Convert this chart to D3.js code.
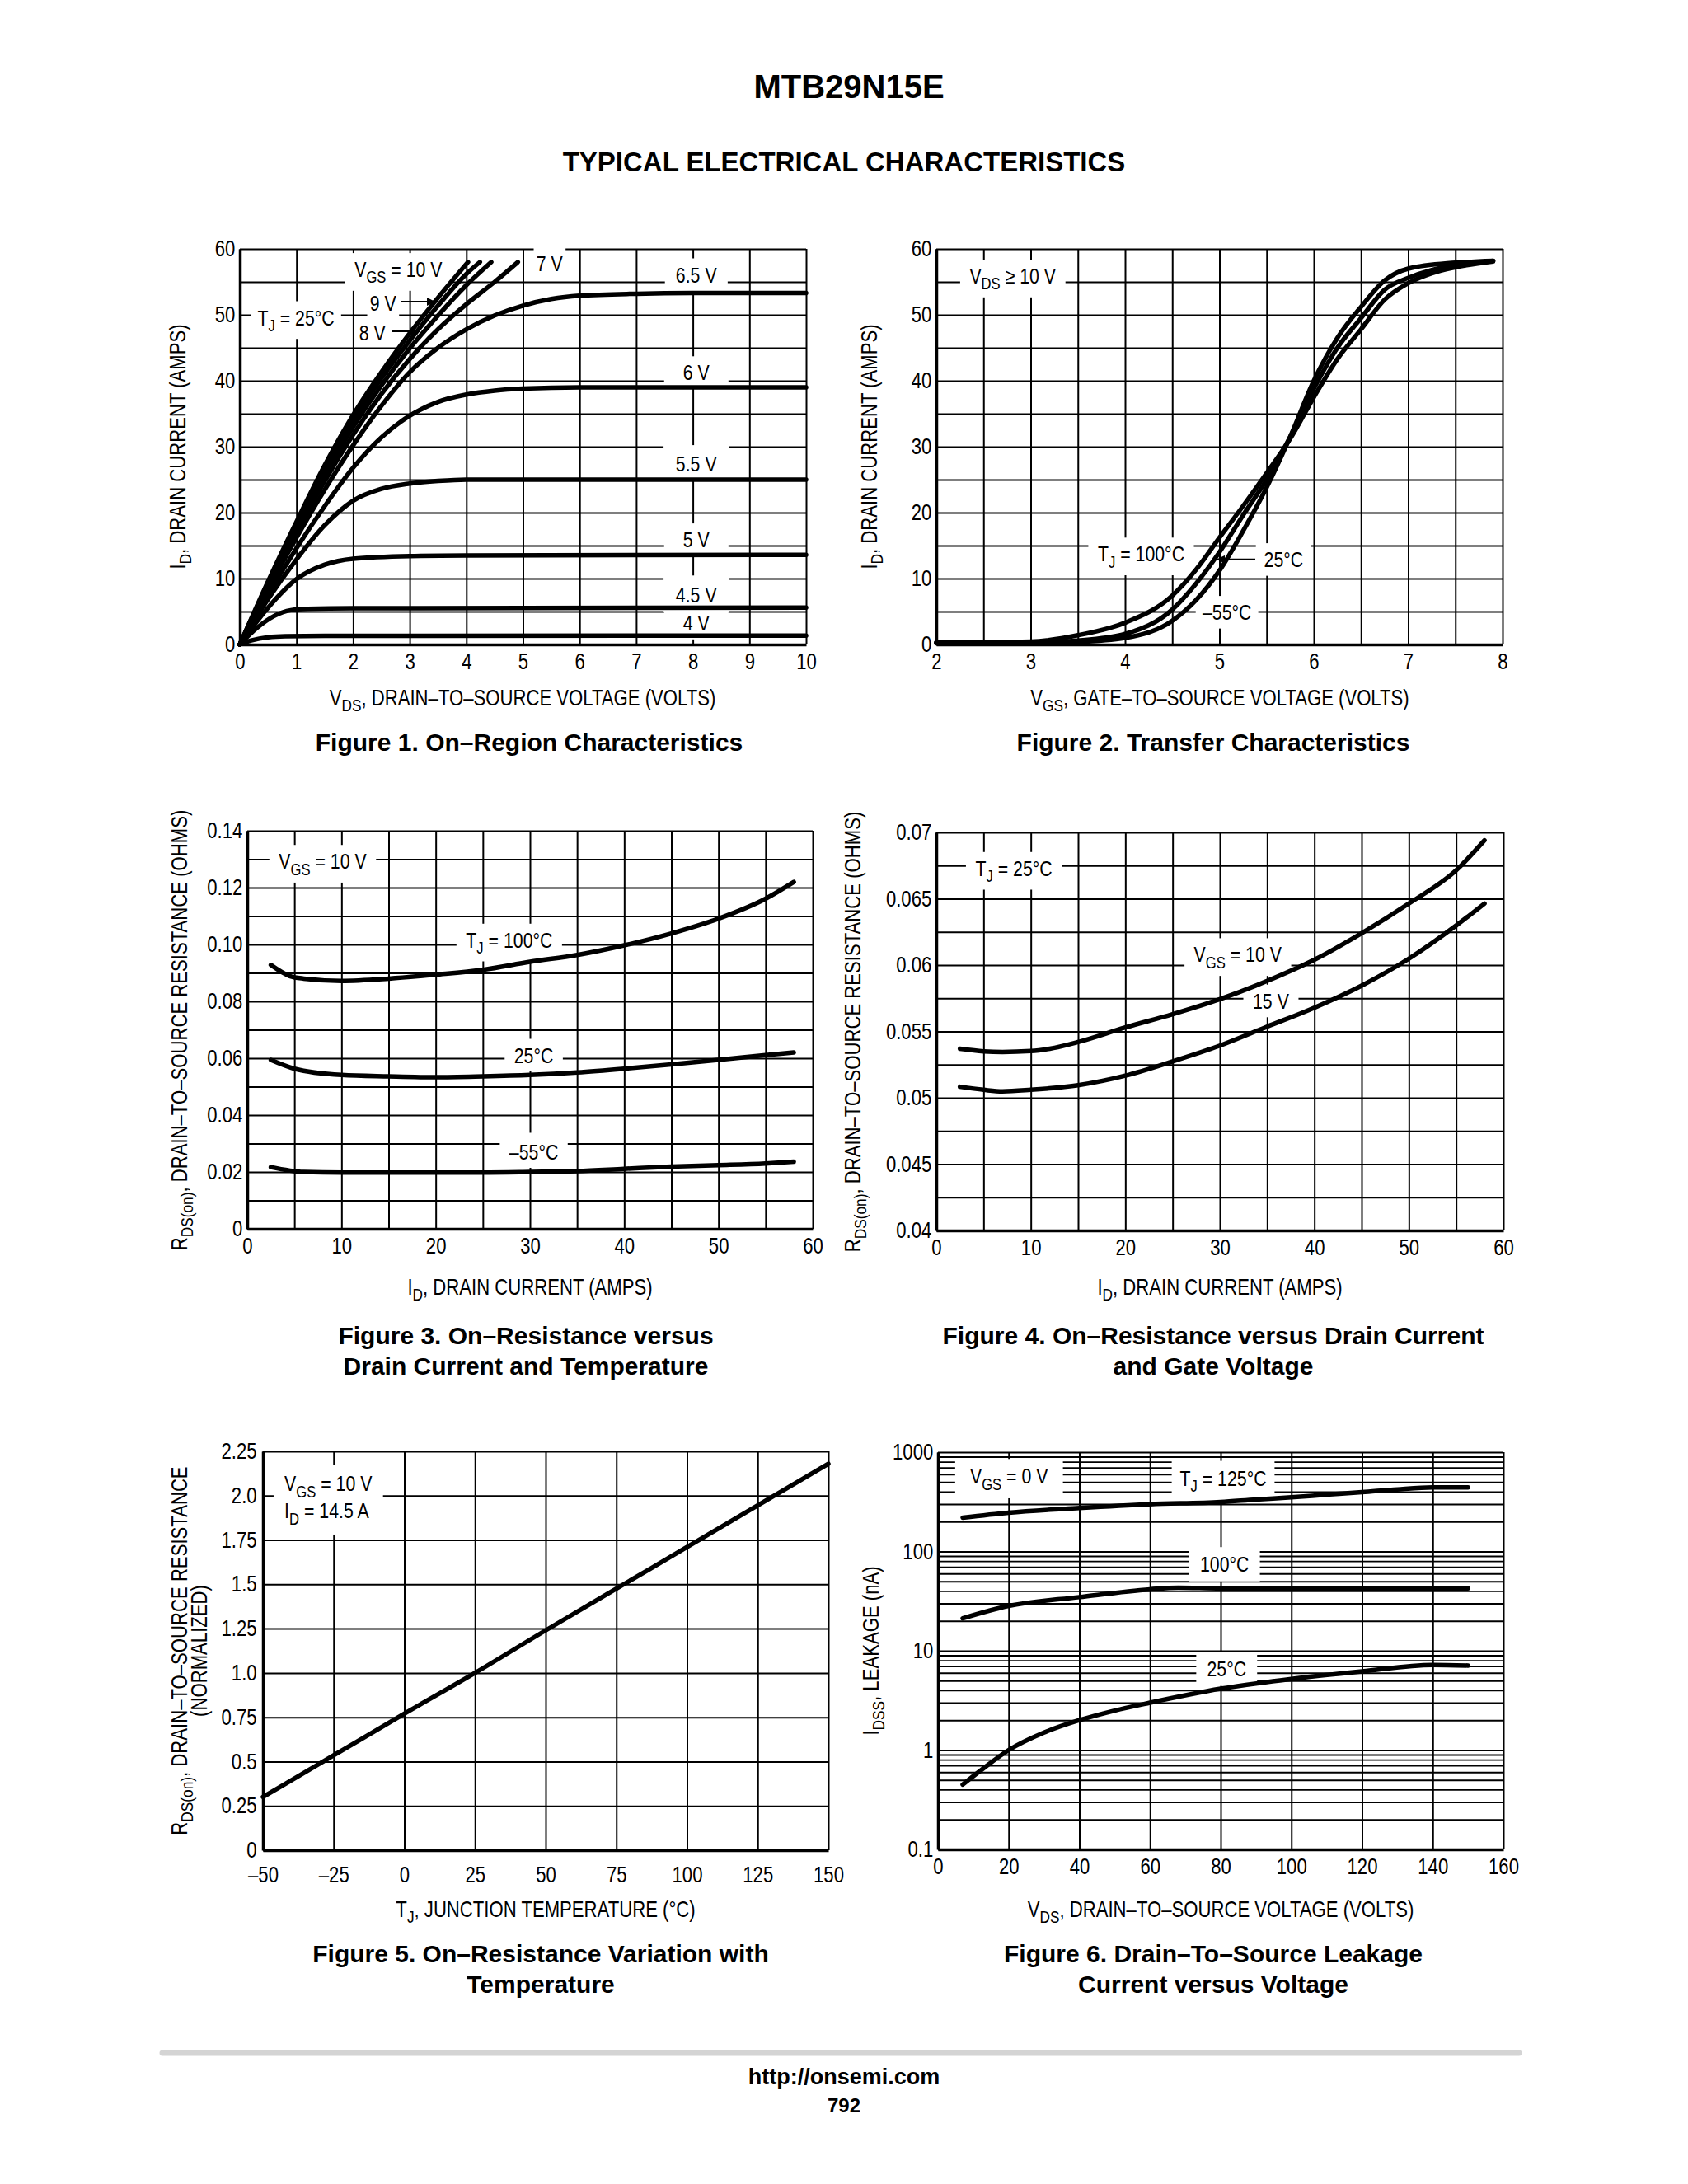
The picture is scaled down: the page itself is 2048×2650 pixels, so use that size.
<!DOCTYPE html>
<html><head><meta charset="utf-8"><title>MTB29N15E</title>
<script src="https://cdn.jsdelivr.net/npm/d3@7/dist/d3.min.js"></script>
<style>html,body{margin:0;padding:0;background:#fff}svg{display:block}</style>
</head><body>
<script>
// ================= DATA =================
// ---- Figure 1: On-Region Characteristics (VDS [V], ID [A]) ----
const fig1XTicks = [0,1,2,3,4,5,6,7,8,9,10];
const fig1XLabels = ['0','1','2','3','4','5','6','7','8','9','10'];
const fig1YTicks = [0,10,20,30,40,50,60];
const fig1YLabels = ['0','10','20','30','40','50','60'];
const fig1XGrid = [0,1,2,3,4,5,6,7,8,9,10];
const fig1YGrid = [0,5,10,15,20,25,30,35,40,45,50,55,60];
const fig1Vgs10V = [[0,0],[0.5,9.6],[1,18.6],[1.5,27.2],[2,34.8],[2.5,41.3],[3,47.2],[3.5,52.6],[4.03,58]];
const fig1Vgs9V  = [[0,0],[0.5,9.4],[1,18.2],[1.5,26.5],[2,34],[2.5,40.4],[3,46.1],[3.5,51.4],[4,56.2],[4.24,58]];
const fig1Vgs8V  = [[0,0],[0.5,9.2],[1,17.7],[1.5,25.7],[2,33],[2.5,39.3],[3,44.9],[3.5,49.9],[4,54.5],[4.44,58]];
const fig1Vgs7V  = [[0,0],[0.5,8.8],[1,17],[1.5,24.8],[2,31.8],[2.5,38],[3,43.3],[3.5,47.8],[4,51.6],[4.5,55],[4.91,58]];
const fig1Vgs6p5V = [[0,0],[0.5,8.4],[1,16.2],[1.5,23.5],[2,30.2],[2.5,36.2],[3,41.3],[3.5,45],[4,47.8],[4.5,49.9],[5,51.4],[5.5,52.4],[6,52.9],[7,53.2],[8,53.3],[10,53.3]];
const fig1Vgs6V  = [[0,0],[0.5,7.6],[1,14.6],[1.5,21],[2,26.8],[2.5,31.4],[3,34.7],[3.5,36.8],[4,37.9],[4.5,38.5],[5,38.8],[6,39],[10,39]];
const fig1Vgs5p5V = [[0,0],[0.5,6.9],[1,12.9],[1.5,18.1],[2,21.8],[2.5,23.6],[3,24.4],[3.5,24.8],[4,25],[10,25]];
const fig1Vgs5V  = [[0,0],[0.5,5.6],[1,9.9],[1.5,12.1],[2,13],[3,13.4],[4,13.5],[10,13.6]];
const fig1Vgs4p5V = [[0,0],[0.3,2.5],[0.6,4.3],[0.9,5.2],[1.2,5.4],[2,5.5],[10,5.6]];
const fig1Vgs4V  = [[0,0],[0.2,0.6],[0.5,1.1],[0.8,1.25],[1.5,1.3],[10,1.35]];

// ---- Figure 2: Transfer Characteristics (VGS [V], ID [A]) ----
const fig2XTicks = [2,3,4,5,6,7,8];
const fig2XLabels = ['2','3','4','5','6','7','8'];
const fig2YTicks = [0,10,20,30,40,50,60];
const fig2YLabels = ['0','10','20','30','40','50','60'];
const fig2XGrid = [2,2.5,3,3.5,4,4.5,5,5.5,6,6.5,7,7.5,8];
const fig2YGrid = [0,5,10,15,20,25,30,35,40,45,50,55,60];
const fig2Tj100 = [[2,0.3],[3,0.45],[3.5,1.4],[4,3.3],[4.5,7.4],[4.75,11.3],[5,16.2],[5.25,21],[5.5,26],[5.75,31.2],[6,37.5],[6.25,43.3],[6.5,47.8],[6.75,52.3],[7,54.8],[7.25,56.3],[7.5,57.2],[7.9,58.1]];
const fig2Tj25  = [[2,0.25],[3,0.3],[3.5,0.6],[4,1.6],[4.5,5.3],[4.75,9.2],[5,14],[5.25,19.6],[5.5,25],[5.75,31.5],[6,38.8],[6.25,45],[6.5,49.5],[6.75,53.8],[7,55.6],[7.25,56.8],[7.5,57.5],[7.9,58.2]];
const fig2TjM55 = [[2,0.2],[3,0.25],[3.5,0.4],[4,1.0],[4.5,3.6],[4.75,6.7],[5,11.2],[5.25,17.2],[5.5,23.8],[5.75,31.5],[6,40],[6.25,46.5],[6.5,51.2],[6.75,55.2],[7,57],[7.5,57.9],[7.9,58.2]];

// ---- Figure 3: On-Resistance vs Drain Current and Temperature (ID [A], RDS [ohm]) ----
const fig3XTicks = [0,10,20,30,40,50,60];
const fig3XLabels = ['0','10','20','30','40','50','60'];
const fig3YTicks = [0,0.02,0.04,0.06,0.08,0.10,0.12,0.14];
const fig3YLabels = ['0','0.02','0.04','0.06','0.08','0.10','0.12','0.14'];
const fig3XGrid = [0,5,10,15,20,25,30,35,40,45,50,55,60];
const fig3YGrid = [0,0.01,0.02,0.03,0.04,0.05,0.06,0.07,0.08,0.09,0.10,0.11,0.12,0.13,0.14];
const fig3Tj100 = [[2.5,0.0928],[4.5,0.0889],[6,0.088],[10,0.0872],[15,0.088],[20,0.0894],[25,0.0911],[30,0.0939],[35,0.0963],[40,0.0997],[45,0.1039],[50,0.1091],[55,0.1161],[58,0.122]];
const fig3Tj25  = [[2.5,0.0594],[5,0.0563],[10,0.0541],[15,0.0536],[20,0.0533],[25,0.0536],[30,0.0541],[35,0.055],[40,0.0563],[45,0.0578],[50,0.0594],[55,0.0611],[58,0.062]];
const fig3TjM55 = [[2.5,0.0217],[6,0.0200],[10,0.0198],[20,0.0198],[25,0.0198],[30,0.0200],[35,0.0203],[40,0.0211],[45,0.0219],[50,0.0224],[55,0.023],[58,0.0236]];

// ---- Figure 4: On-Resistance vs Drain Current and Gate Voltage ----
const fig4XTicks = [0,10,20,30,40,50,60];
const fig4XLabels = ['0','10','20','30','40','50','60'];
const fig4YTicks = [0.04,0.045,0.05,0.055,0.06,0.065,0.07];
const fig4YLabels = ['0.04','0.045','0.05','0.055','0.06','0.065','0.07'];
const fig4XGrid = [0,5,10,15,20,25,30,35,40,45,50,55,60];
const fig4YGrid = [0.04,0.0425,0.045,0.0475,0.05,0.0525,0.055,0.0575,0.06,0.0625,0.065,0.0675,0.07];
const fig4Vgs10 = [[2.5,0.05369],[5,0.0535],[7,0.05345],[10,0.05352],[12,0.0537],[15,0.0542],[20,0.0553],[25,0.0563],[30,0.05743],[35,0.0588],[40,0.0604],[45,0.0624],[50,0.06464],[55,0.06714],[58,0.0694]];
const fig4Vgs15 = [[2.5,0.05083],[5,0.0506],[7,0.05048],[10,0.0506],[15,0.05095],[20,0.05167],[25,0.05274],[30,0.05393],[35,0.05536],[40,0.05679],[45,0.05845],[50,0.06048],[55,0.06298],[58,0.06464]];

// ---- Figure 5: On-Resistance Variation with Temperature ----
const fig5XTicks = [-50,-25,0,25,50,75,100,125,150];
const fig5XLabels = ['\u201350','\u201325','0','25','50','75','100','125','150'];
const fig5YTicks = [0,0.25,0.5,0.75,1.0,1.25,1.5,1.75,2.0,2.25];
const fig5YLabels = ['0','0.25','0.5','0.75','1.0','1.25','1.5','1.75','2.0','2.25'];
const fig5XGrid = [-50,-25,0,25,50,75,100,125,150];
const fig5YGrid = [0,0.25,0.5,0.75,1.0,1.25,1.5,1.75,2.0,2.25];
const fig5Temp = [-50,-25,0,25,50,75,100,125,150];
const fig5Rnorm = [0.30,0.535,0.77,1.0,1.24,1.475,1.71,1.945,2.18];

// ---- Figure 6: Drain-To-Source Leakage Current vs Voltage ----
const fig6XTicks = [0,20,40,60,80,100,120,140,160];
const fig6XLabels = ['0','20','40','60','80','100','120','140','160'];
const fig6YTicks = [0.1,1,10,100,1000];
const fig6YLabels = ['0.1','1','10','100','1000'];
const fig6XGrid = [0,20,40,60,80,100,120,140,160];
const fig6Decades = [0.1,1,10,100];
const fig6Tj125 = [[7,219],[20,246],[40,274],[60,299],[80,315],[90,334],[100,351],[110,373],[120,395],[130,422],[140,441],[150,441]];
const fig6Tj100 = [[7,21.2],[20,28.3],[40,34.7],[60,41.6],[68,43.2],[80,42.5],[100,42.5],[150,42.5]];
const fig6Tj25  = [[7,0.45],[12,0.62],[20,1.0],[30,1.5],[40,2.0],[50,2.5],[60,3.0],[80,4.15],[100,5.2],[120,6.2],[140,7.2],[150,7.1]];

// ================= DRAWING =================
const W = 2048, H = 2650;
const FONT = "'Liberation Sans', Arial, Helvetica, sans-serif";
const SQ = 0.82; // condensed lettering of the graph texts
const TICK_SIZE = 27;

const svg = d3.select('body').append('svg').attr('width', W).attr('height', H);
svg.append('rect').attr('width', W).attr('height', H).attr('fill', '#fff');
const defs = svg.append('defs');
defs.append('marker').attr('id', 'arr').attr('viewBox', '0 0 10 10')
  .attr('refX', 10).attr('refY', 5).attr('markerWidth', 7).attr('markerHeight', 5)
  .attr('markerUnits', 'strokeWidth').attr('orient', 'auto')
  .append('path').attr('d', 'M0,0L10,5L0,10z').attr('fill', '#000');

function richText(parent, str, size, attrs) {
  const t = parent.append('text').attr('font-family', FONT).attr('font-size', size).attr('fill', '#000');
  for (const k in attrs) if (attrs[k] != null) t.attr(k, attrs[k]);
  const re = /_\{([^}]*)\}/g; let last = 0, m, shift = 0;
  const push = (s, sub) => {
    const ts = t.append('tspan').text(s);
    if (sub) { ts.attr('font-size', size * 0.78).attr('dy', size * 0.28); shift = size * 0.28; }
    else if (shift) { ts.attr('dy', -shift); shift = 0; }
  };
  while ((m = re.exec(str))) { if (m.index > last) push(str.slice(last, m.index), false); push(m[1], true); last = re.lastIndex; }
  if (last < str.length) push(str.slice(last), false);
  return t;
}

function makePanel(o) {
  const g = svg.append('g');
  const { l, r, t, b } = o.box;
  const x = d3.scaleLinear().domain(o.xDomain).range([l, r]);
  const y = (o.log ? d3.scaleLog() : d3.scaleLinear()).domain(o.yDomain).range([b, t]);
  const gx = g.append('g').attr('transform', `translate(0,${b})`)
    .call(d3.axisBottom(x).tickValues(o.xGrid).tickSize(-(b - t)).tickSizeOuter(0).tickFormat(''));
  gx.select('.domain').remove();
  gx.selectAll('line').attr('stroke', '#000').attr('stroke-width', 2);
  const gy = g.append('g').attr('transform', `translate(${l},0)`)
    .call(d3.axisLeft(y).tickValues(o.yGrid).tickSize(-(r - l)).tickSizeOuter(0).tickFormat(''));
  gy.select('.domain').remove();
  gy.selectAll('line').attr('stroke', '#000').attr('stroke-width', d => o.yGridWidth ? o.yGridWidth(d) : 2);
  const ann = g.append('g'), cur = g.append('g'), top = g.append('g');
  const ax = g.append('g').attr('transform', `translate(0,${b})`)
    .call(d3.axisBottom(x).tickValues(o.xTicks).tickSize(0).tickSizeOuter(0).tickPadding(o.xPad ?? 11).tickFormat((d, i) => o.xLabels[i]));
  const ay = g.append('g').attr('transform', `translate(${l},0)`)
    .call(d3.axisLeft(y).tickValues(o.yTicks).tickSize(0).tickSizeOuter(0).tickPadding(o.yPad ?? 7).tickFormat((d, i) => o.yLabels[i]));
  [ax, ay].forEach(a => {
    a.select('.domain').attr('stroke', '#000').attr('stroke-width', 3.5);
    a.selectAll('text').attr('font-size', TICK_SIZE).attr('font-family', FONT).attr('fill', '#000')
      .attr('transform', `scale(${SQ},1)`);
  });
  const line = d3.line().x(d => x(d[0])).y(d => y(d[1])).curve(d3.curveMonotoneX);
  (o.series || []).forEach(s => {
    cur.append('path').datum(s).attr('d', line).attr('fill', 'none').attr('stroke', '#000')
      .attr('stroke-width', 5.5).attr('stroke-linecap', 'round').attr('stroke-linejoin', 'round');
  });
  return { g, x, y, ann, cur, top };
}

function label(P, dx, dy, str, opt = {}) {
  const size = opt.size || 26;
  const gg = P.ann.append('g').attr('transform', `translate(${P.x(dx)},${P.y(dy)}) scale(${SQ},1)`);
  const rect = gg.append('rect').attr('fill', '#fff');
  const lines = str.split('\n');
  const lh = size * 1.27;
  lines.forEach((s, i) => richText(gg, s, size, { 'text-anchor': opt.anchor || 'middle', y: size * 0.36 + i * lh }));
  let x0 = Infinity, y0 = Infinity, x1 = -Infinity, y1 = -Infinity;
  gg.selectAll('text').each(function () {
    const bb = this.getBBox();
    x0 = Math.min(x0, bb.x); y0 = Math.min(y0, bb.y);
    x1 = Math.max(x1, bb.x + bb.width); y1 = Math.max(y1, bb.y + bb.height);
  });
  const px = opt.px ?? 14, pt = opt.pt ?? 5, pb = opt.pb ?? 5;
  rect.attr('x', x0 - px).attr('y', y0 - pt).attr('width', x1 - x0 + 2 * px).attr('height', y1 - y0 + pt + pb);
}

function arrow(P, x1, y1, x2, y2) {
  P.top.append('line').attr('x1', P.x(x1)).attr('y1', P.y(y1)).attr('x2', P.x(x2)).attr('y2', P.y(y2))
    .attr('stroke', '#000').attr('stroke-width', 2).attr('marker-end', 'url(#arr)');
}

function gText(x, y, str, opt = {}) {
  const size = opt.size || 27;
  const gg = svg.append('g').attr('transform', `translate(${x},${y})${opt.rot ? ' rotate(-90)' : ''} scale(${opt.sq ?? SQ},1)`);
  richText(gg, str, size, { 'text-anchor': opt.anchor || 'middle', y: opt.baseline ? 0 : size * 0.36, 'font-weight': opt.bold ? 'bold' : null });
}
const CAP = 30;
function caption(x, y, str) { gText(x, y, str, { size: CAP, bold: true, sq: 1, baseline: true }); }

// ---------- Header ----------
gText(1030, 119, 'MTB29N15E', { size: 40, bold: true, sq: 1, baseline: true });
gText(1024, 208, 'TYPICAL ELECTRICAL CHARACTERISTICS', { size: 33, bold: true, sq: 1, baseline: true });

// ---------- Figure 1 ----------
const P1 = makePanel({
  box: { l: 291, r: 978, t: 302, b: 782 }, xDomain: [0, 10], yDomain: [0, 60],
  xGrid: fig1XGrid, yGrid: fig1YGrid, xTicks: fig1XTicks, xLabels: fig1XLabels, yTicks: fig1YTicks, yLabels: fig1YLabels,
  series: [fig1Vgs10V, fig1Vgs9V, fig1Vgs8V, fig1Vgs7V, fig1Vgs6p5V, fig1Vgs6V, fig1Vgs5p5V, fig1Vgs5V, fig1Vgs4p5V, fig1Vgs4V]
});
label(P1, 2.8, 56.9, 'V_{GS} = 10 V');
label(P1, 0.99, 49.6, 'T_{J} = 25°C', { px: 10 });
label(P1, 2.53, 51.75, '9 V', { px: 4, pt: 1, pb: 1 });
label(P1, 2.34, 47.25, '8 V', { px: 4, pt: 1, pb: 1 });
label(P1, 5.47, 57.75, '7 V', { px: 4 });
label(P1, 8.06, 56.1, '6.5 V', { px: 16 });
label(P1, 8.06, 41.25, '6 V', { px: 28 });
label(P1, 8.06, 27.4, '5.5 V', { px: 18, pt: 8 });
label(P1, 8.06, 15.9, '5 V', { px: 28 });
label(P1, 8.06, 7.5, '4.5 V', { px: 18, pt: 9 });
label(P1, 8.06, 3.25, '4 V', { px: 28, pt: 7 });
arrow(P1, 2.84, 52, 3.45, 52);
arrow(P1, 2.68, 47.5, 3.17, 47.5);
gText(634, 846, 'V_{DS}, DRAIN\u2013TO\u2013SOURCE VOLTAGE (VOLTS)');
gText(215, 542, 'I_{D}, DRAIN CURRENT (AMPS)', { rot: true });
caption(642, 911, 'Figure 1. On\u2013Region Characteristics');

// ---------- Figure 2 ----------
const P2 = makePanel({
  box: { l: 1136, r: 1823, t: 302, b: 782 }, xDomain: [2, 8], yDomain: [0, 60],
  xGrid: fig2XGrid, yGrid: fig2YGrid, xTicks: fig2XTicks, xLabels: fig2XLabels, yTicks: fig2YTicks, yLabels: fig2YLabels,
  series: [fig2Tj100, fig2Tj25, fig2TjM55]
});
label(P2, 2.81, 55.9, 'V_{DS} \u2265 10 V', { px: 14 });
label(P2, 4.17, 13.75, 'T_{J} = 100°C', { px: 14 });
label(P2, 5.68, 12.9, '25°C', { px: 12 });
label(P2, 5.08, 4.9, '\u201355°C', { px: 10 });
arrow(P2, 5.38, 12.9, 4.97, 12.9);
gText(1480, 846, 'V_{GS}, GATE\u2013TO\u2013SOURCE VOLTAGE (VOLTS)');
gText(1054, 542, 'I_{D}, DRAIN CURRENT (AMPS)', { rot: true });
caption(1472, 911, 'Figure 2. Transfer Characteristics');

// ---------- Figure 3 ----------
const P3 = makePanel({
  box: { l: 300, r: 986, t: 1008, b: 1491 }, xDomain: [0, 60], yDomain: [0, 0.14],
  xGrid: fig3XGrid, yGrid: fig3YGrid, xTicks: fig3XTicks, xLabels: fig3XLabels, yTicks: fig3YTicks, yLabels: fig3YLabels,
  series: [fig3Tj100, fig3Tj25, fig3TjM55]
});
label(P3, 8.0, 0.1293, 'V_{GS} = 10 V');
label(P3, 27.8, 0.1016, 'T_{J} = 100°C');
label(P3, 30.4, 0.0611, '25°C');
label(P3, 30.4, 0.0272, '\u201355°C', { pt: 8 });
gText(643, 1561, 'I_{D}, DRAIN CURRENT (AMPS)');
gText(217, 1250, 'R_{DS(on)}, DRAIN\u2013TO\u2013SOURCE RESISTANCE (OHMS)', { rot: true });
caption(638, 1631, 'Figure 3. On\u2013Resistance versus');
caption(638, 1668, 'Drain Current and Temperature');

// ---------- Figure 4 ----------
const P4 = makePanel({
  box: { l: 1136, r: 1824, t: 1010, b: 1493 }, xDomain: [0, 60], yDomain: [0.04, 0.07],
  xGrid: fig4XGrid, yGrid: fig4YGrid, xTicks: fig4XTicks, xLabels: fig4XLabels, yTicks: fig4YTicks, yLabels: fig4YLabels,
  series: [fig4Vgs10, fig4Vgs15]
});
label(P4, 8.2, 0.0673, 'T_{J} = 25°C');
label(P4, 31.9, 0.0608, 'V_{GS} = 10 V');
label(P4, 35.4, 0.0573, '15 V');
gText(1480, 1561, 'I_{D}, DRAIN CURRENT (AMPS)');
gText(1034, 1252, 'R_{DS(on)}, DRAIN\u2013TO\u2013SOURCE RESISTANCE (OHMS)', { rot: true });
caption(1472, 1631, 'Figure 4. On\u2013Resistance versus Drain Current');
caption(1472, 1668, 'and Gate Voltage');

// ---------- Figure 5 ----------
const P5 = makePanel({
  box: { l: 319, r: 1005, t: 1761, b: 2245 }, xDomain: [-50, 150], yDomain: [0, 2.25],
  xGrid: fig5XGrid, yGrid: fig5YGrid, xTicks: fig5XTicks, xLabels: fig5XLabels, yTicks: fig5YTicks, yLabels: fig5YLabels,
  xPad: 20, yPad: 9,
  series: [fig5Temp.map((t, i) => [t, fig5Rnorm[i]])]
});
label(P5, -42.4, 2.069, 'V_{GS} = 10 V\nI_{D} = 14.5 A', { anchor: 'start', px: 16, pt: 8, pb: 8 });
gText(662, 2316, 'T_{J}, JUNCTION TEMPERATURE (°C)');
gText(217, 2003, 'R_{DS(on)}, DRAIN\u2013TO\u2013SOURCE RESISTANCE', { rot: true });
gText(241, 2003, '(NORMALIZED)', { rot: true });
caption(656, 2381, 'Figure 5. On\u2013Resistance Variation with');
caption(656, 2418, 'Temperature');

// ---------- Figure 6 ----------
const fig6YGrid = [];
fig6Decades.forEach(d => { for (let m = 1; m <= 9; m++) fig6YGrid.push(d * m); });
fig6YGrid.push(1000);
const P6 = makePanel({
  box: { l: 1138, r: 1824, t: 1762, b: 2244 }, xDomain: [0, 160], yDomain: [0.1, 1000], log: true,
  xGrid: fig6XGrid, yGrid: fig6YGrid, xTicks: fig6XTicks, xLabels: fig6XLabels, yTicks: fig6YTicks, yLabels: fig6YLabels,
  yGridWidth: d => (Math.abs(Math.log10(d) - Math.round(Math.log10(d))) < 1e-6 ? 2.2 : 1.8),
  series: [fig6Tj125, fig6Tj100, fig6Tj25]
});
label(P6, 20.1, 575, 'V_{GS} = 0 V', { px: 22, pt: 6, pb: 6 });
label(P6, 80.7, 550, 'T_{J} = 125°C', { px: 12, pt: 6, pb: 6 });
label(P6, 81.1, 74.5, '100°C', { px: 16, pt: 6, pb: 6 });
label(P6, 81.7, 6.6, '25°C', { px: 16, pt: 6, pb: 6 });
gText(1481, 2316, 'V_{DS}, DRAIN\u2013TO\u2013SOURCE VOLTAGE (VOLTS)');
gText(1056, 2003, 'I_{DSS}, LEAKAGE (nA)', { rot: true });
caption(1472, 2381, 'Figure 6. Drain\u2013To\u2013Source Leakage');
caption(1472, 2418, 'Current versus Voltage');

// ---------- Footer ----------
svg.append('line').attr('x1', 197).attr('x2', 1843).attr('y1', 2491).attr('y2', 2491)
  .attr('stroke', '#d4d4d4').attr('stroke-width', 7).attr('stroke-linecap', 'round');
gText(1024, 2529, 'http://onsemi.com', { size: 27, bold: true, sq: 1, baseline: true });
gText(1024, 2563, '792', { size: 24, bold: true, sq: 1, baseline: true });
</script>
</body></html>
